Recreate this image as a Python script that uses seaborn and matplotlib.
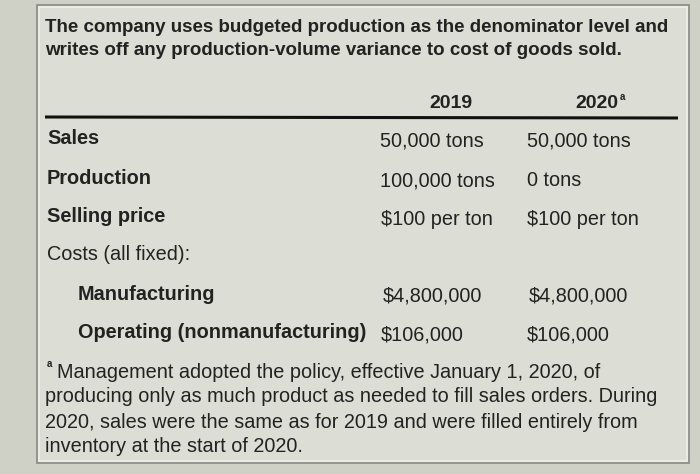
import matplotlib
matplotlib.use("Agg")
import matplotlib.pyplot as plt
import seaborn as sns
from matplotlib.patches import Rectangle

# ---------------- data ----------------
intro_lines = [
    "The company uses budgeted production as the denominator level and",
    "writes off any production-volume variance to cost of goods sold.",
]
years = ["2019", "2020"]
row_labels = ["Sales", "Production", "Selling price", "Costs (all fixed):",
              "Manufacturing", "Operating (nonmanufacturing)"]
row_bold = [True, True, True, False, True, True]
row_indent = [0, 0, 0, 0, 1, 1]
values_2019 = ["50,000 tons", "100,000 tons", "$100 per ton", "",
               "$4,800,000", "$106,000"]
values_2020 = ["50,000 tons", "0 tons", "$100 per ton", "",
               "$4,800,000", "$106,000"]
footnote_lines = [
    "Management adopted the policy, effective January 1, 2020, of",
    "producing only as much product as needed to fill sales orders. During",
    "2020, sales were the same as for 2019 and were filled entirely from",
    "inventory at the start of 2020.",
]

sns.set_theme(style="white")
plt.rcParams['font.family'] = ['Liberation Sans', 'DejaVu Sans']

bg = "#cfd0c6"
panel = "#dcddd4"
ink = "#222222"

fig = plt.figure(figsize=(7, 4.74), dpi=100, facecolor=bg)
ax = fig.add_axes([0, 0, 1, 1])
ax.set_xlim(0, 700)
ax.set_ylim(474, 0)
ax.axis("off")
ax.set_facecolor(bg)

# panel box: gray outline with a light inner edge
ax.add_patch(Rectangle((37, 5), 652, 458, facecolor=panel,
                       edgecolor="#8e8f88", linewidth=1.3))
ax.add_patch(Rectangle((39, 7), 648, 454, facecolor="none",
                       edgecolor="#eeeee8", linewidth=1.2))

fs_intro = 13.5
fs = 14.3

# intro text
for i, line in enumerate(intro_lines):
    ax.text(45, 27 + i * 23, line, fontsize=fs_intro, fontweight="bold",
            color=ink, va="center", ha="left")

# header
ax.text(451, 103, years[0], fontsize=14, fontweight="bold",
        color=ink, ha="center", va="center")
ax.text(597, 103, years[1], fontsize=14, fontweight="bold",
        color=ink, ha="center", va="center")
ax.text(620, 97, "a", fontsize=7, fontweight="bold", color=ink,
        ha="left", va="center")
ax.plot([45, 678], [117, 118], color="#111111", linewidth=2.2,
        solid_capstyle="butt")

# body rows
row_y = [139, 179, 217, 255, 294, 333]
col1_x = [380, 380, 381, 0, 383, 381]
col2_x = [527, 527, 527, 0, 529, 527]
for lab, b, ind, v1, v2, y, x1, x2 in zip(row_labels, row_bold, row_indent,
                                         values_2019, values_2020, row_y,
                                         col1_x, col2_x):
    ax.text(47 + ind * 31, y, lab, fontsize=fs, fontweight="bold" if b else "normal",
            color=ink, ha="left", va="center")
    if v1:
        ax.text(x1, y + 2, v1, fontsize=fs, color=ink, ha="left", va="center")
    if v2:
        ax.text(x2, y + 2, v2, fontsize=fs, color=ink, ha="left", va="center")

# footnote
ax.text(47, 364, "a", fontsize=7, fontweight="bold", color=ink,
        ha="left", va="center")
for i, line in enumerate(footnote_lines):
    x0 = 57 if i == 0 else 45
    ax.text(x0, 372 + i * 25, line, fontsize=fs, color=ink,
            ha="left", va="center")

fig.savefig("out.png", dpi=100, facecolor=bg)
